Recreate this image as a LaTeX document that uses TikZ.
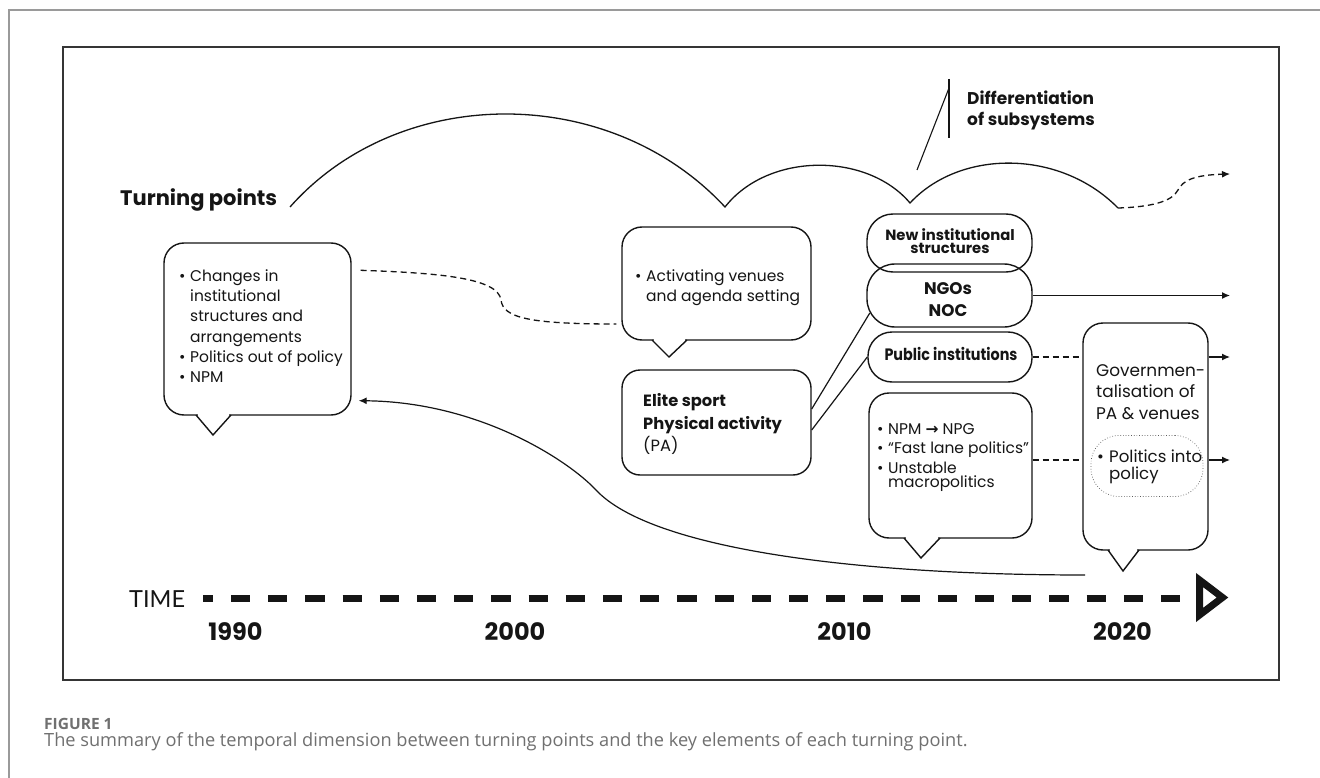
\documentclass[tikz,border=0pt]{standalone}
\usepackage{fontspec}
\setmainfont{Poppins}
\newfontfamily\popc{Poppins}[FakeStretch=0.87]
\newfontfamily\capfont{Open Sans}
\newfontfamily\djv{DejaVu Sans}
\newfontfamily\latofont{Lato}
\usetikzlibrary{arrows.meta,calc}
\definecolor{ink}{HTML}{151515}
\definecolor{framec}{HTML}{353535}
\definecolor{outerc}{HTML}{9A9A9A}
\definecolor{capc}{HTML}{707070}
\newcommand\ctrlines[2]{\vtop{\baselineskip=#1\lineskiplimit=-50pt\halign{\hfil##\hfil\cr #2\crcr}}}
\newcommand\lftlines[2]{\vtop{\baselineskip=#1\lineskiplimit=-50pt\halign{##\hfil\cr #2\crcr}}}
\newcommand\bul{\makebox[11pt][l]{•}}
\newcommand\ind{\hspace*{11pt}}
\newcommand\regf{\fontsize{15.5}{18}\selectfont}
\tikzset{
  bx/.style={draw=ink, line width=1.4pt, inner sep=0pt},
  txt/.style={inner sep=0pt, text=ink},
  conn/.style={line width=1.3pt, draw=ink},
  dsh/.style={conn, dash pattern=on 6pt off 4pt},
  arr/.style={-{Latex[length=8pt,width=7pt]}},
  tailerase/.style={white, line width=2.8pt},
  tailline/.style={draw=ink, line width=1.4pt, line join=miter},
}
\begin{document}
\begin{tikzpicture}[x=1pt,y=-1pt]
\useasboundingbox (0,0) rectangle (1320,778);
\fill[white] (0,0) rectangle (1320,778);
% outer frame lines
\draw[outerc, line width=1.2pt] (9,778) -- (9,10) -- (1320,10);
% inner frame
\draw[framec, line width=1.3pt] (63,47) rectangle (1279,680);

% headings
\node[txt, anchor=base west, font=\fontsize{21}{24}\selectfont\bfseries] (tp) at (120,206) {Turning points};
\node[txt, anchor=base west, font=\fontsize{17}{20}\selectfont\bfseries] (diff) at (967,105) {\lftlines{20.7pt}{Differentiation\cr of subsystems}};

% top arcs
\draw[conn] (290,207) .. controls (400,83) and (610,83) .. (725,207)
  .. controls (768,152) and (867,152) .. (910,203)
  .. controls (960,149) and (1060,149) .. (1118,208);
\coordinate (topEnd) at (1230,174);
\draw[dsh, arr] (1118,208) .. controls (1150,207) and (1172,202) .. (1178,190)
  .. controls (1183,180) and (1195,175) .. (topEnd);

% differentiation callout
\coordinate (vt) at (949,79);
\coordinate (vb) at (949,138);
\coordinate (sl) at (949,88);
\coordinate (cusp) at (917,170);
\draw[conn, line width=1.1pt] (vt) -- (vb);
\draw[conn, line width=1.1pt] (sl) -- (cusp);

% boxes
\node[bx, rounded corners=20pt, minimum width=187pt, minimum height=172pt] (A) at (257.5,329) {};
\node[bx, rounded corners=20pt, minimum width=189pt, minimum height=113pt] (B) at (716.5,283.5) {};
\node[bx, rounded corners=18pt, minimum width=189pt, minimum height=105pt] (C) at (716.5,422.5) {};
\node[bx, rounded corners=26pt, minimum width=165pt, minimum height=58pt] (D) at (949.5,243) {};
\node[bx, rounded corners=28pt, minimum width=165pt, minimum height=63pt] (E) at (949.5,295.5) {};
\node[bx, rounded corners=24pt, minimum width=164pt, minimum height=50pt] (F) at (950,357) {};
\node[bx, rounded corners=20pt, minimum width=163pt, minimum height=145pt] (H) at (950.5,465.5) {};
\node[bx, rounded corners=20pt, minimum width=125pt, minimum height=227pt] (G) at (1145.5,436.5) {};
\node[draw=ink!70, dotted, line width=0.7pt, inner sep=0pt, rounded corners=28pt, minimum width=112pt, minimum height=61pt] (Gi) at (1147,466) {};

% tails
\draw[tailerase] (197.8,415) -- (229.2,415);
\draw[tailline] (196,415) -- (213,435) -- (231,415);
\draw[tailerase] (653.8,340) -- (685.2,340);
\draw[tailline] (652,340) -- (669,357) -- (687,340);
\draw[tailerase] (905.8,538) -- (938.2,538);
\draw[tailline] (904,538) -- (921,558) -- (940,538);
\draw[tailerase] (1109.8,550) -- (1137.2,550);
\draw[tailline] (1108,550) -- (1123,571) -- (1139,550);

% texts in boxes
\node[txt, anchor=base west, font=\regf] (tA) at (179,281.5) {\lftlines{20.2pt}{\bul Changes in\cr \ind institutional\cr \ind structures and\cr \ind arrangements\cr \bul Politics out of policy\cr \bul NPM}};
\node[txt, anchor=base west, font=\regf] (tB) at (635,281.7) {\lftlines{20pt}{\bul Activating venues\cr \ind and agenda setting}};
\node[txt, anchor=base west, font=\fontsize{16.3}{19}\selectfont] (tC) at (643,406.7) {\lftlines{22.5pt}{\textbf{Elite sport}\cr \textbf{Physical activity}\cr (PA)}};
\node[txt, anchor=base, font=\fontsize{14.8}{17}\selectfont\bfseries] (tD) at (950,240.7) {\ctrlines{13.3pt}{New institutional\cr structures}};
\node[txt, anchor=base, font=\fontsize{16.8}{20}\selectfont\bfseries] (tE) at (948,294.3) {\ctrlines{22.4pt}{NGOs\cr NOC}};
\node[txt, anchor=base, font=\popc\fontsize{16.5}{20}\selectfont\bfseries] (tF) at (951,360.7) {Public institutions};
\node[txt, anchor=base west, font=\regf] (tH) at (877,434) {\lftlines{19.5pt}{\bul NPM {\djv\bfseries →} NPG\cr \bul “Fast lane politics”\cr \bul Unstable\cr\noalign{\vskip-5.5pt} \ind macropolitics}};
\node[txt, anchor=base west, font=\fontsize{16.9}{20}\selectfont] (tG) at (1096,376) {\lftlines{21.7pt}{Governmen-\cr talisation of\cr PA \& venues}};
\node[txt, anchor=base west, font=\fontsize{16.6}{20}\selectfont] (tGi) at (1097,462) {\lftlines{17.5pt}{\makebox[12pt][l]{•}Politics into\cr \hspace*{12pt}policy}};

% connectors
\draw[dsh] ([xshift=9pt,yshift=-28pt]A.north east) .. controls (440,273) and (498,278) .. (501,300)
  .. controls (503,318) and (530,324) .. ([xshift=-5pt,yshift=-40.5pt]B.west);
\draw[conn, line width=1.2pt] ([yshift=13.5pt]C.east) -- ([xshift=3.5pt,yshift=-17.5pt]E.west);
\draw[conn, line width=1.2pt] ([yshift=-7.5pt]C.east) -- (F.west);
\coordinate (eEnd) at (1230,295.5);
\draw[conn, arr] (E.east) -- (eEnd);
\coordinate (fEnd) at (1230,357);
\draw[dsh] (F.east) -- (F.east -| G.west);
\draw[conn, arr] (G.east |- F.east) -- (fEnd);
\coordinate (hOut) at ([yshift=5.5pt]H.east);
\coordinate (hEnd) at (1230,460);
\draw[dsh] (hOut) -- (hOut -| G.west);
\draw[conn, arr] (G.east |- hOut) -- (hEnd);
\coordinate (gcurve) at (1085,575);
\draw[conn, line width=1.2pt, arr] (gcurve) .. controls (850,575) and (650,548) .. (596,490)
  .. controls (569,461) and (480,402) .. ([xshift=7pt,yshift=15pt]A.south east);

% time axis
\node[txt, anchor=base west, font=\latofont\fontsize{23.5}{26}\selectfont] (time) at (129,607) {TIME};
\coordinate (axS) at (203,598);
\coordinate (axE) at (1181,598);
\draw[ink, line width=7pt, dash pattern=on 19.2pt off 18pt, dash phase=9.2pt] (axS) -- (axE);
\draw[ink, line width=7pt, line join=miter] (1199.5,580) -- (1222.5,597.5) -- (1199.5,615) -- cycle;
\node[txt, anchor=base, font=\fontsize{24}{26}\selectfont\bfseries] (y1990) at (235.5,640.7) {1990};
\node[txt, anchor=base, font=\fontsize{24}{26}\selectfont\bfseries] (y2000) at (515,640.7) {2000};
\node[txt, anchor=base, font=\fontsize{24}{26}\selectfont\bfseries] (y2010) at (844.5,640.7) {2010};
\node[txt, anchor=base, font=\fontsize{24}{26}\selectfont\bfseries] (y2020) at (1122.5,640.7) {2020};

% caption
\node[inner sep=0pt, anchor=base west, text=capc, font=\capfont\fontsize{15.5}{17}\selectfont\bfseries] (figl) at (44,729.3) {FIGURE 1};
\node[inner sep=0pt, anchor=base west, text=capc, font=\capfont\fontsize{18.2}{21}\selectfont] (capt) at (44,746) {The summary of the temporal dimension between turning points and the key elements of each turning point.};
\end{tikzpicture}
\end{document}
